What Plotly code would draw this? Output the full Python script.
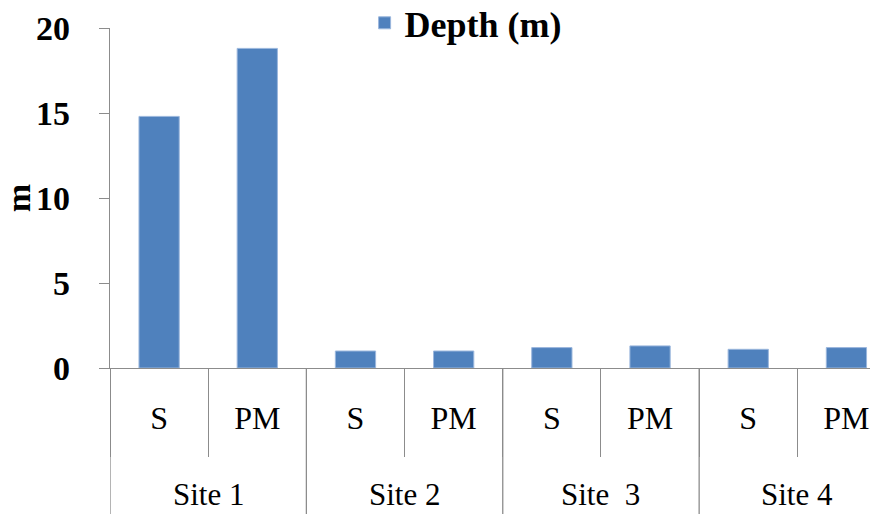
import plotly.graph_objects as go

# Depth measured at each site for the S and PM points
sites = ["Site 1", "Site 2", "Site \u00a03", "Site 4"]
points = ["S", "PM"]
depth_s = [14.8, 1.0, 1.2, 1.1]
depth_pm = [18.8, 1.0, 1.3, 1.2]
y_ticks = [0, 5, 10, 15, 20]

categories = []
labels = []
values = []
for i, site in enumerate(sites):
    for p, v in zip(points, [depth_s[i], depth_pm[i]]):
        categories.append(f"{site}|{p}")
        labels.append(p)
        values.append(v)

BLUE = "#4F81BD"
GRAY = "#8C8C8C"
SERIF = "Liberation Serif"

fig = go.Figure()
fig.add_trace(go.Bar(
    x=categories,
    y=values,
    name="Depth (m)",
    width=0.41,
    marker=dict(color=BLUE, line=dict(color="#9BB7DD", width=1)),
    showlegend=True,
))

# long dividers separating the site groups
for k in range(len(sites)):
    fig.add_shape(
        type="line", xref="x", yref="paper",
        x0=2 * k - 0.5, x1=2 * k - 0.5, y0=0, y1=-0.6,
        line=dict(color=GRAY, width=1.3),
    )

# site group labels
for k, site in enumerate(sites):
    fig.add_annotation(
        x=2 * k + 0.5, xref="x", y=-146 / 340, yref="paper",
        text=site, showarrow=False, yanchor="bottom",
        font=dict(family=SERIF, size=31, color="black"),
    )

fig.update_layout(
    width=870, height=514,
    margin=dict(l=110, r=0, t=28, b=146, autoexpand=False),
    paper_bgcolor="white", plot_bgcolor="white",
    bargap=0.59,
    showlegend=True,
    legend=dict(
        orientation="h", x=0.335, y=1.015, xanchor="left", yanchor="middle",
        font=dict(family=SERIF, size=36, color="black", weight="bold"),
        bgcolor="rgba(0,0,0,0)",
    ),
    xaxis=dict(
        type="category",
        categoryorder="array", categoryarray=categories,
        tickmode="array", tickvals=categories, ticktext=labels,
        range=[-0.5, 7.24],
        showline=True, linecolor=GRAY, linewidth=1.3,
        ticks="outside", tickson="boundaries", ticklen=88,
        tickcolor=GRAY, tickwidth=1.3,
        ticklabelstandoff=21,
        tickfont=dict(family=SERIF, size=32, color="black"),
        showgrid=False, zeroline=False,
    ),
    yaxis=dict(
        range=[0, 20],
        tickmode="array", tickvals=y_ticks,
        showline=True, linecolor=GRAY, linewidth=1.3,
        ticks="outside", ticklen=10, tickcolor=GRAY, tickwidth=1.3,
        ticklabelstandoff=22,
        tickfont=dict(family=SERIF, size=34, color="black", weight="bold"),
        showgrid=False, zeroline=False,
        title=dict(text="m", font=dict(family=SERIF, size=34, color="black", weight="bold")),
    ),
)

fig.write_html("out.html")
